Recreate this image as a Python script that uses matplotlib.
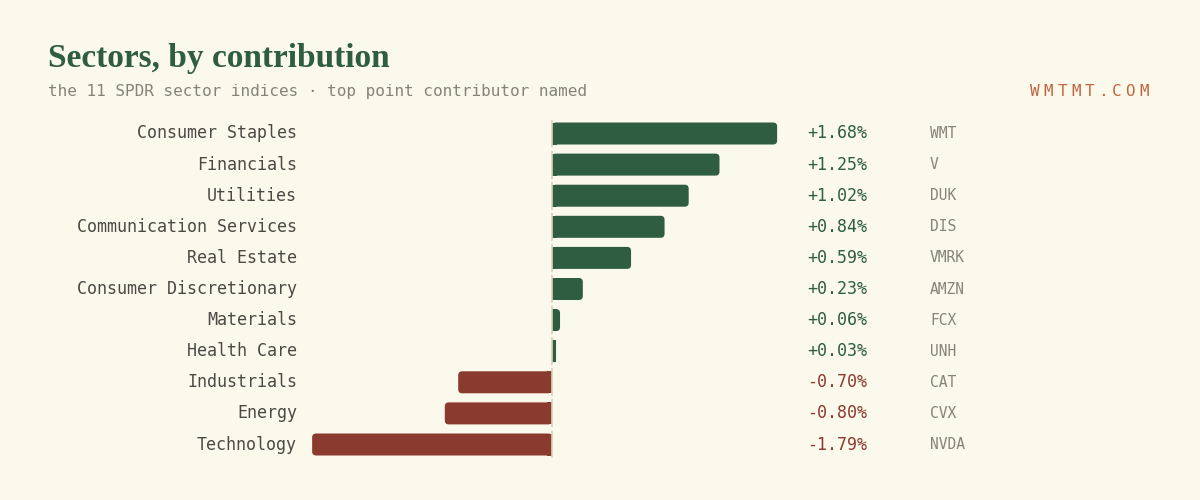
import matplotlib.pyplot as plt
from matplotlib.patches import FancyBboxPatch

# Data
sectors = ['Consumer Staples', 'Financials', 'Utilities', 'Communication Services',
           'Real Estate', 'Consumer Discretionary', 'Materials', 'Health Care',
           'Industrials', 'Energy', 'Technology']
changes = [1.68, 1.25, 1.02, 0.84, 0.59, 0.23, 0.06, 0.03, -0.70, -0.80, -1.79]
tickers = ['WMT', 'V', 'DUK', 'DIS', 'VMRK', 'AMZN', 'FCX', 'UNH', 'CAT', 'CVX', 'NVDA']

BG = '#fbf8ec'
GREEN = '#2e5d42'
RED = '#8b3a2f'
MONO = 'DejaVu Sans Mono'

W, H = 1200, 500
fig = plt.figure(figsize=(12, 5), dpi=100, facecolor=BG)
ax = fig.add_axes([0, 0, 1, 1])
ax.set_facecolor(BG)
ax.axis('off')

# pixel layout -> data limits
zero_px, px_per_pct = 552, 134.0
row0_px, row_px = 133.5, 31.1
ax.set_xlim(-zero_px / px_per_pct, (W - zero_px) / px_per_pct)
ax.set_ylim((H - row0_px) / row_px, -row0_px / row_px)

bar_h = 22 / row_px
r_x = 4 / px_per_pct
aspect = (4 / row_px) / r_x

for i, (s, v, t) in enumerate(zip(sectors, changes, tickers)):
    col = GREEN if v >= 0 else RED
    # rounded bar, then square off the end touching zero
    ax.add_patch(FancyBboxPatch((min(0, v), i - bar_h / 2), abs(v), bar_h,
                                boxstyle=f'round,pad=0,rounding_size={min(r_x, abs(v) / 2)}',
                                mutation_aspect=aspect, fc=col, ec='none'))
    inner = min(abs(v), r_x * 1.2)
    ax.barh(i, inner if v >= 0 else -inner, height=bar_h, left=0, color=col, edgecolor='none')
    ax.vlines(0, i - 0.45, i + 0.45, color='#d9d1b8', lw=1.2, zorder=3)
    ax.text((297 - zero_px) / px_per_pct, i, s, ha='right', va='center',
            family=MONO, fontsize=12, color='#4a4a45')
    ax.text((867 - zero_px) / px_per_pct, i, f'{v:+.2f}%', ha='right', va='center',
            family=MONO, fontsize=12, color=col)
    ax.text((930 - zero_px) / px_per_pct, i, t, ha='left', va='center',
            family=MONO, fontsize=10.5, color='#86837a')

fig.text(48 / W, 1 - 67 / H, 'Sectors, by contribution', ha='left', va='baseline',
         family='Liberation Serif', fontweight='bold', fontsize=24, color=GREEN)
fig.text(48 / W, 1 - 96 / H, 'the 11 SPDR sector indices · top point contributor named',
         ha='left', va='baseline', family=MONO, fontsize=11.5, color='#86837a')

brand = 'WMTMT.COM'
for k, ch in enumerate(brand):
    fig.text((1035 + k * 13.6) / W, 1 - 96 / H, ch, ha='center', va='baseline',
             family=MONO, fontsize=11.5, color='#c0653f')

fig.savefig('out.png', dpi=100, facecolor=BG)
